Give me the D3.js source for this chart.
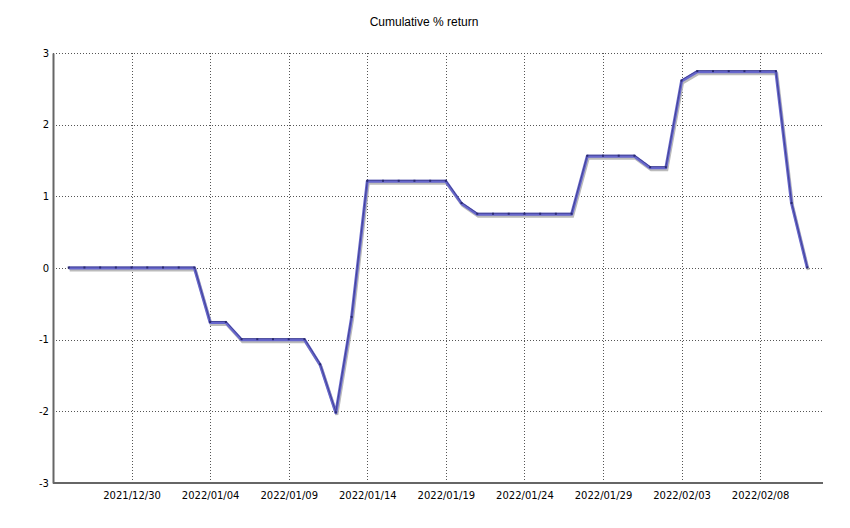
<!DOCTYPE html>
<html>
<head>
	<meta charset="utf-8" />
	<style>
		body { margin: 0; background: #fff; }
		svg { display: block; }
	</style>
	<title>Cumulative % return</title>
</head>
<body>
	<script src="https://cdn.jsdelivr.net/npm/d3@7"></script>
	<script>
		// daily dates and cumulative return values
		const dates = [
			"2021-12-26", "2021-12-27", "2021-12-28", "2021-12-29", "2021-12-30", "2021-12-31",
			"2022-01-01", "2022-01-02", "2022-01-03", "2022-01-04", "2022-01-05", "2022-01-06",
			"2022-01-07", "2022-01-08", "2022-01-09", "2022-01-10", "2022-01-11", "2022-01-12",
			"2022-01-13", "2022-01-14", "2022-01-15", "2022-01-16", "2022-01-17", "2022-01-18",
			"2022-01-19", "2022-01-20", "2022-01-21", "2022-01-22", "2022-01-23", "2022-01-24",
			"2022-01-25", "2022-01-26", "2022-01-27", "2022-01-28", "2022-01-29", "2022-01-30",
			"2022-01-31", "2022-02-01", "2022-02-02", "2022-02-03", "2022-02-04", "2022-02-05",
			"2022-02-06", "2022-02-07", "2022-02-08", "2022-02-09", "2022-02-10", "2022-02-11"
		];
		const returns = [
			0, 0, 0, 0, 0, 0,
			0, 0, 0, -0.76, -0.76, -1.0,
			-1.0, -1.0, -1.0, -1.0, -1.35, -2.02,
			-0.69, 1.21, 1.21, 1.21, 1.21, 1.21,
			1.21, 0.90, 0.75, 0.75, 0.75, 0.75,
			0.75, 0.75, 0.75, 1.56, 1.56, 1.56,
			1.56, 1.40, 1.40, 2.61, 2.74, 2.74,
			2.74, 2.74, 2.74, 2.74, 0.90, 0.0
		];
		const xTicks = ["2021-12-30", "2022-01-04", "2022-01-09", "2022-01-14", "2022-01-19",
			"2022-01-24", "2022-01-29", "2022-02-03", "2022-02-08"];
		const yTicks = [-3, -2, -1, 0, 1, 2, 3];
		const xDomain = ["2021-12-25", "2022-02-12"];

		const parse = d3.utcParse("%Y-%m-%d");
		const fmt = d3.utcFormat("%Y/%m/%d");
		const data = dates.map((d, i) => ({ date: parse(d), v: returns[i] }));

		const W = 850, H = 528;
		const m = { top: 53, right: 27, bottom: 45, left: 53 };

		const svg = d3.select("body").append("svg").attr("width", W).attr("height", H);

		const x = d3.scaleUtc().domain(xDomain.map(parse)).range([m.left, W - m.right]);
		const y = d3.scaleLinear().domain([-3, 3]).range([H - m.bottom, m.top]);

		// dotted grid
		svg.append("g")
			.selectAll("line")
			.data(yTicks.filter(d => d !== -3))
			.join("line")
			.attr("x1", m.left).attr("x2", W - m.right)
			.attr("y1", d => Math.round(y(d)) + 0.5).attr("y2", d => Math.round(y(d)) + 0.5)
			.attr("stroke", "#555").attr("stroke-dasharray", "1,2");
		svg.append("g")
			.selectAll("line")
			.data(xTicks.map(parse))
			.join("line")
			.attr("x1", d => Math.round(x(d)) + 0.5).attr("x2", d => Math.round(x(d)) + 0.5)
			.attr("y1", m.top).attr("y2", H - m.bottom)
			.attr("stroke", "#555").attr("stroke-dasharray", "1,2");

		// axes
		const xAxis = svg.append("g")
			.attr("transform", `translate(0,${H - m.bottom})`)
			.call(d3.axisBottom(x).tickValues(xTicks.map(parse)).tickFormat(fmt).tickSize(0).tickPadding(9));
		const yAxis = svg.append("g")
			.attr("transform", `translate(${m.left},0)`)
			.call(d3.axisLeft(y).tickValues(yTicks).tickFormat(d => String(d)).tickSize(0).tickPadding(4));
		[xAxis, yAxis].forEach(g => {
			g.attr("font-family", "'DejaVu Sans', sans-serif").attr("font-size", 10);
			g.select(".domain").attr("stroke", "#666").attr("stroke-width", 2);
			g.selectAll("text").attr("fill", "#000");
		});
		xAxis.select(".domain").attr("d", `M${m.left},0H${W - m.right}`);

		// line with a soft shadow
		const line = d3.line().x(d => x(d.date)).y(d => y(d.v));
		svg.append("path").datum(data)
			.attr("d", line)
			.attr("transform", "translate(1,2)")
			.attr("fill", "none").attr("stroke", "#bbb").attr("stroke-width", 3);
		svg.append("path").datum(data)
			.attr("d", line)
			.attr("fill", "none").attr("stroke", "#6666cc").attr("stroke-width", 3)
			.attr("stroke-linejoin", "round");
		svg.append("path").datum(data)
			.attr("d", line)
			.attr("transform", "translate(0,-1)")
			.attr("fill", "none").attr("stroke", "#3a3a88").attr("stroke-width", 0.8);

		// small markers
		svg.append("g")
			.selectAll("rect")
			.data(data)
			.join("rect")
			.attr("x", d => x(d.date) - 1).attr("y", d => y(d.v) - 1.5)
			.attr("width", 2).attr("height", 2)
			.attr("fill", "#2a2a70");

		// title
		svg.append("text")
			.attr("x", W / 2 - 1).attr("y", 26)
			.attr("text-anchor", "middle")
			.attr("font-size", 12)
			.attr("font-family", "'Liberation Sans', Arial, sans-serif")
			.text("Cumulative % return");
	</script>
</body>
</html>
